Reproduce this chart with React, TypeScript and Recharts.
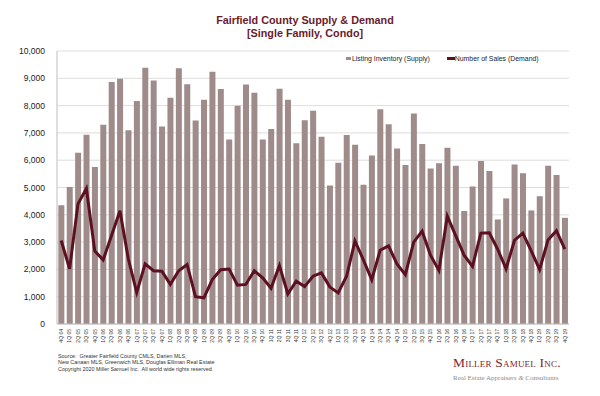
import {
  Bar,
  CartesianGrid,
  ComposedChart,
  Legend,
  Line,
  XAxis,
  YAxis,
} from "recharts";

const quarters = [
  "4Q 04",
  "1Q 05", "2Q 05", "3Q 05", "4Q 05",
  "1Q 06", "2Q 06", "3Q 06", "4Q 06",
  "1Q 07", "2Q 07", "3Q 07", "4Q 07",
  "1Q 08", "2Q 08", "3Q 08", "4Q 08",
  "1Q 09", "2Q 09", "3Q 09", "4Q 09",
  "1Q 10", "2Q 10", "3Q 10", "4Q 10",
  "1Q 11", "2Q 11", "3Q 11", "4Q 11",
  "1Q 12", "2Q 12", "3Q 12", "4Q 12",
  "1Q 13", "2Q 13", "3Q 13", "4Q 13",
  "1Q 14", "2Q 14", "3Q 14", "4Q 14",
  "1Q 15", "2Q 15", "3Q 15", "4Q 15",
  "1Q 16", "2Q 16", "3Q 16", "4Q 16",
  "1Q 17", "2Q 17", "3Q 17", "4Q 17",
  "1Q 18", "2Q 18", "3Q 18", "4Q 18",
  "1Q 19", "2Q 19", "3Q 19", "4Q 19",
];

const listingInventory = [
  4350,
  5020, 6270, 6930, 5750,
  7300, 8860, 8980, 7100,
  8170, 9390, 8920, 7230,
  8290, 9370, 8780, 7450,
  8210, 9240, 8610, 6760,
  7990, 8770, 8470, 6760,
  7140, 8620, 8210, 6620,
  7460, 7810, 6860, 5070,
  5910, 6920, 6570, 5100,
  6170, 7870, 7320, 6430,
  5820, 7710, 6590, 5700,
  5890, 6460, 5800, 4140,
  5040, 5970, 5600, 3830,
  4600, 5840, 5520, 4160,
  4680, 5800, 5460, 3890,
];

const numberOfSales = [
  3060,
  2020, 4400, 4960, 2670,
  2350, 3240, 4150, 2380,
  1150, 2200, 1950, 1930,
  1450, 1950, 2180, 1000,
  960, 1630, 1990, 2010,
  1420, 1450, 1950, 1690,
  1310, 2140, 1100, 1570,
  1370, 1750, 1870, 1360,
  1140, 1750, 3040, 2350,
  1620, 2700, 2860, 2200,
  1810, 3000, 3400, 2520,
  1960, 3950, 3240, 2520,
  2110, 3330, 3340, 2740,
  2020, 3060, 3330, 2680,
  1990, 3080, 3420, 2740,
];

const yTicks = [0, 1000, 2000, 3000, 4000, 5000, 6000, 7000, 8000, 9000, 10000];

const data = quarters.map((q, i) => ({
  quarter: q,
  supply: listingInventory[i],
  demand: numberOfSales[i],
}));

const BAR_COLOR = "#9e8b8a";
const LINE_COLOR = "#5c1020";
const FONT = "'Liberation Sans', Arial, sans-serif";
const SERIF = "'Liberation Serif', 'DejaVu Serif', serif";

function QuarterTick(props: any) {
  const { x, y, payload } = props;
  return (
    <g transform={`translate(${x},${y})`}>
      <text
        transform="rotate(-90)"
        x={-3}
        dy={1.8}
        textAnchor="end"
        fontSize={5}
        fill="#333"
        fontFamily={FONT}
      >
        {payload.value}
      </text>
    </g>
  );
}

function ChartLegend() {
  return (
    <div
      style={{
        display: "flex",
        fontFamily: FONT,
        fontSize: 6.9,
        color: "#222",
        alignItems: "center",
        whiteSpace: "nowrap",
      }}
    >
      <span style={{ display: "inline-block", width: 5, height: 3, background: BAR_COLOR, marginRight: 1 }} />
      <span style={{ marginRight: 17 }}>Listing Inventory (Supply)</span>
      <span style={{ display: "inline-block", width: 8, height: 3, background: LINE_COLOR }} />
      <span>Number of Sales (Demand)</span>
    </div>
  );
}

export default function App() {
  return (
    <div
      style={{
        position: "absolute",
        left: 0,
        top: 0,
        width: 600,
        height: 396,
        background: "#fff",
        overflow: "hidden",
      }}
    >
      <div
        style={{
          position: "absolute",
          left: 0,
          top: 14,
          width: 610,
          textAlign: "center",
          fontFamily: FONT,
          fontWeight: "bold",
          fontSize: 10.8,
          lineHeight: "13px",
          color: "#6a1b2b",
        }}
      >
        Fairfield County Supply &amp; Demand
        <br />
        [Single Family, Condo]
      </div>

      <ComposedChart
        width={600}
        height={396}
        data={data}
        margin={{ top: 44, right: 31, left: 0, bottom: 42 }}
        barCategoryGap="16%"
      >
        <CartesianGrid vertical={false} stroke="#d4d4d4" strokeWidth={0.8} />
        <XAxis
          dataKey="quarter"
          interval={0}
          height={30}
          tickLine={false}
          tickSize={0}
          axisLine={{ stroke: "#bdbdbd" }}
          tick={<QuarterTick />}
        />
        <YAxis
          width={57}
          domain={[0, 10000]}
          ticks={yTicks}
          interval={0}
          tickLine={false}
          tickSize={0}
          tickMargin={12}
          axisLine={{ stroke: "#bdbdbd" }}
          tickFormatter={(v: number) => v.toLocaleString("en-US")}
          tick={{ fontSize: 8.5, fill: "#222", fontFamily: FONT }}
        />
        <Legend
          verticalAlign="top"
          content={<ChartLegend />}
          wrapperStyle={{ top: 55, left: 346, width: 220 }}
        />
        <Bar
          dataKey="supply"
          name="Listing Inventory (Supply)"
          fill={BAR_COLOR}
          isAnimationActive={false}
        />
        <Line
          dataKey="demand"
          name="Number of Sales (Demand)"
          type="linear"
          stroke={LINE_COLOR}
          strokeWidth={3}
          dot={false}
          activeDot={false}
          isAnimationActive={false}
        />
      </ComposedChart>

      <div
        style={{
          position: "absolute",
          left: 58,
          top: 354,
          fontFamily: FONT,
          fontSize: 5.4,
          lineHeight: "5.5px",
          color: "#333",
          whiteSpace: "nowrap",
        }}
      >
        Source:&nbsp; Greater Fairfield County CMLS, Darien MLS,
        <br />
        New Canaan MLS, Greenwich MLS, Douglas Elliman Real Estate
        <div style={{ marginTop: 1.5 }}>
          Copyright 2020 Miller Samuel Inc.&nbsp; All world wide rights reserved.
        </div>
      </div>

      <div
        style={{
          position: "absolute",
          left: 453,
          top: 355,
          fontFamily: SERIF,
          color: "#7a1f2e",
          fontSize: 13.5,
          fontVariant: "small-caps",
          letterSpacing: 0.2,
          lineHeight: "16px",
          whiteSpace: "nowrap",
        }}
      >
        Miller Samuel Inc.
      </div>
      <div
        style={{
          position: "absolute",
          left: 453,
          top: 374,
          fontFamily: SERIF,
          color: "#8a8a8a",
          fontSize: 7,
          lineHeight: "9px",
          whiteSpace: "nowrap",
        }}
      >
        Real Estate Appraisers <i>&amp;</i> Consultants
      </div>
    </div>
  );
}
